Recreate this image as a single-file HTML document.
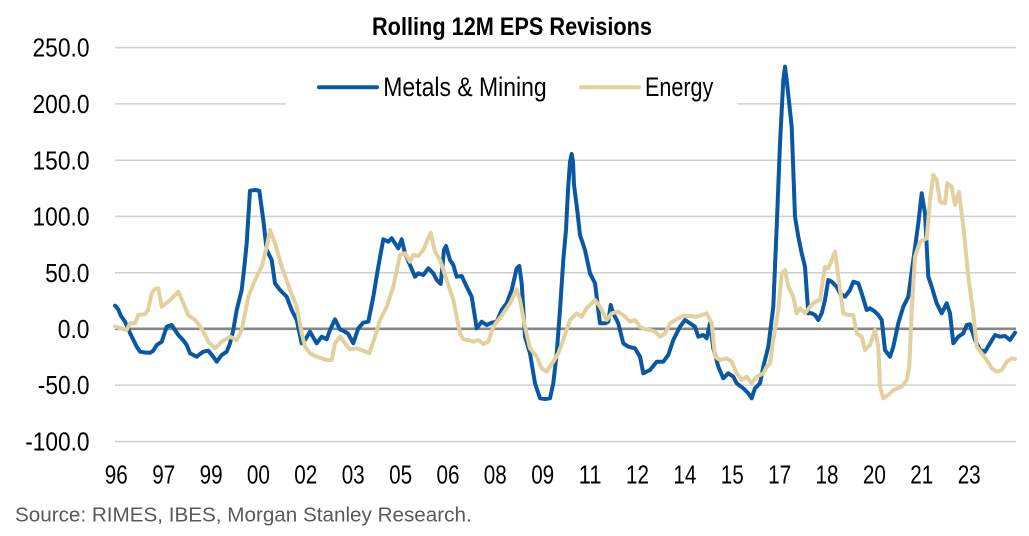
<!DOCTYPE html>
<html>
<head>
<meta charset="utf-8">
<style>
  html, body { margin:0; padding:0; background:#ffffff; }
  body { width:1029px; height:536px; overflow:hidden; }
  svg { display:block; }
  text { font-family: "Liberation Sans", "DejaVu Sans", sans-serif; }
</style>
</head>
<body>
<svg width="1029" height="536" viewBox="0 0 1029 536" xmlns="http://www.w3.org/2000/svg">
  <rect x="0" y="0" width="1029" height="536" fill="#ffffff"/>

  <!-- Title -->
  <text x="512" y="35" font-size="25" font-weight="bold" fill="#000" text-anchor="middle" textLength="280" lengthAdjust="spacingAndGlyphs">Rolling 12M EPS Revisions</text>

  <!-- Gridlines -->
  <g stroke="#cfcfcf" stroke-width="1.5">
    <line x1="115" y1="47.6" x2="1016" y2="47.6"/>
    <line x1="115" y1="103.9" x2="1016" y2="103.9"/>
    <line x1="115" y1="160.2" x2="1016" y2="160.2"/>
    <line x1="115" y1="216.4" x2="1016" y2="216.4"/>
    <line x1="115" y1="272.7" x2="1016" y2="272.7"/>
    <line x1="115" y1="385.1" x2="1016" y2="385.1"/>
    <line x1="115" y1="441.5" x2="1016" y2="441.5"/>
  </g>

  <!-- Legend background (interrupts 200 gridline) -->
  <rect x="286" y="66" width="451" height="44" fill="#ffffff"/>

  <!-- Zero line -->
  <line x1="115" y1="328.8" x2="1016" y2="328.8" stroke="#868686" stroke-width="2.6"/>

  <!-- Y axis labels -->
  <g font-size="26" fill="#000" text-anchor="end">
    <text x="89.5" y="56.7" textLength="57" lengthAdjust="spacingAndGlyphs">250.0</text>
    <text x="89.5" y="113" textLength="57" lengthAdjust="spacingAndGlyphs">200.0</text>
    <text x="89.5" y="169.3" textLength="57" lengthAdjust="spacingAndGlyphs">150.0</text>
    <text x="89.5" y="225.5" textLength="57" lengthAdjust="spacingAndGlyphs">100.0</text>
    <text x="89.5" y="281.8" textLength="44.4" lengthAdjust="spacingAndGlyphs">50.0</text>
    <text x="89.5" y="338" textLength="31.7" lengthAdjust="spacingAndGlyphs">0.0</text>
    <text x="89.5" y="394.2" textLength="51.7" lengthAdjust="spacingAndGlyphs">-50.0</text>
    <text x="89.5" y="450.5" textLength="64.3" lengthAdjust="spacingAndGlyphs">-100.0</text>
  </g>

  <!-- X axis labels -->
  <g font-size="25.5" fill="#000" text-anchor="middle">
    <text x="116.3" y="483.3" textLength="23" lengthAdjust="spacingAndGlyphs">96</text>
    <text x="163.7" y="483.3" textLength="23" lengthAdjust="spacingAndGlyphs">97</text>
    <text x="211.1" y="483.3" textLength="23" lengthAdjust="spacingAndGlyphs">99</text>
    <text x="258.4" y="483.3" textLength="23" lengthAdjust="spacingAndGlyphs">00</text>
    <text x="305.8" y="483.3" textLength="23" lengthAdjust="spacingAndGlyphs">02</text>
    <text x="353.2" y="483.3" textLength="23" lengthAdjust="spacingAndGlyphs">03</text>
    <text x="400.6" y="483.3" textLength="23" lengthAdjust="spacingAndGlyphs">05</text>
    <text x="448.0" y="483.3" textLength="23" lengthAdjust="spacingAndGlyphs">06</text>
    <text x="495.3" y="483.3" textLength="23" lengthAdjust="spacingAndGlyphs">08</text>
    <text x="542.7" y="483.3" textLength="23" lengthAdjust="spacingAndGlyphs">09</text>
    <text x="590.1" y="483.3" textLength="23" lengthAdjust="spacingAndGlyphs">11</text>
    <text x="637.5" y="483.3" textLength="23" lengthAdjust="spacingAndGlyphs">12</text>
    <text x="684.9" y="483.3" textLength="23" lengthAdjust="spacingAndGlyphs">14</text>
    <text x="732.3" y="483.3" textLength="23" lengthAdjust="spacingAndGlyphs">15</text>
    <text x="779.6" y="483.3" textLength="23" lengthAdjust="spacingAndGlyphs">17</text>
    <text x="827.0" y="483.3" textLength="23" lengthAdjust="spacingAndGlyphs">18</text>
    <text x="874.4" y="483.3" textLength="23" lengthAdjust="spacingAndGlyphs">20</text>
    <text x="921.8" y="483.3" textLength="23" lengthAdjust="spacingAndGlyphs">21</text>
    <text x="969.2" y="483.3" textLength="23" lengthAdjust="spacingAndGlyphs">23</text>
  </g>

  <!-- Metals & Mining series -->
  <polyline fill="none" stroke="#0A58A2" stroke-width="4" stroke-linejoin="round" stroke-linecap="round" points="
115,305.7 118,309 121,316 125,321.7 130,333 136.7,346.7 140,351.7 145,352.5 150,352.7 153,351 156.7,345 161.7,341.7
166.7,326.7 171.7,325 175,330 178.3,335 183,340 186.7,345 190,353.3 196.7,356.7 200,354 203.3,351.7 208.3,350.7
213.3,356.7 216.7,361.7 221.7,355 226.7,351.7 230,343.3 233.3,330 236.7,310 241.7,290 244,270 246.7,243.3 250,190.7
255,190 259.3,190.7 263.3,220 266.7,250 271.7,260 275,283.3 280,290 286.7,296.7 291.7,310 296.7,320 301.7,343.3
305,340 310,331.7 316.7,343.3 321.7,336.7 326.7,339.3 330,330 335,319.3 340,329.3 345,331.7 348.3,334 353.3,343.3
358.3,328.3 363.3,322.7 368.3,321.7 373.3,296.7 378.3,266.7 383.3,239.3 388.3,241.7 391.7,238.3 395,243.3 398.3,248.3
401.7,239.3 405,253.3 410,265 415,276.7 418.3,273.3 423.3,275 428.3,268.3 433.3,273.3 436.7,280 440.7,284 444,250
446,246 450,260 453.3,265 456.7,276.7 461.7,276 466.7,286.7 471.7,296.7 476.7,328.3 481.7,321.7 486.7,325 491.7,322.7
496.7,321.7 501.7,310 506.7,303.3 511.7,290 516.7,268.3 519.3,266 521.7,283.3 525,336.7 530,353.3 535,383.3 540,398.3
545,399 550,398.3 553.3,383.3 556.7,353.3 560,310 563.3,260 566,230 568,190 570,162 571.7,154 573,162 574,185 577,208
580,235 585,250 590,273.3 595,283.3 600,323.3 605,323.3 608.3,321.7 610.7,305 613.3,313.3 618.3,323.3 623.3,343.3
628.3,346.7 635,348.3 640,356.7 643.3,373.3 650,370 656.7,361.7 663.3,361.7 668.3,355 673.3,340 680,326.7 685,320
690,323.3 695,326.7 698.3,336.7 703.3,335 706.7,338.3 710,323.3 713.3,348.3 718.3,366.7 723.3,378.3 728.3,373.3
733.3,376.7 736.7,383.3 743.3,388.3 748.3,393.3 751.7,398.3 755,388.3 760,383.3 763.3,366.7 768.3,346.7 773.3,306.7
776.7,226.7 780,143.3 783.3,80 785,66.7 786.7,80 791.7,126.7 795,216.7 798.3,236.7 801.7,253.3 805,266.7 808.3,313.3
811.7,313.3 815,315 818.3,320 821.7,313.3 825,300 828.3,280 831.7,281.7 836.7,286.7 840,293.3 845,296.7 850,290
853.3,281.7 858.3,283.3 861.7,293.3 866.7,310 870,308.3 875,311.7 878.3,315 881.7,320 885,350 890,356.7 893.3,346.7
898.3,323.3 903.3,306.7 908.3,296.7 913.3,260 918.3,223.3 921.7,193.3 925,213.3 928.3,276.7 931.7,286.7 936.7,303.3
941.7,313.3 946.7,303.3 950,313.3 953.3,343.3 958.3,336.7 963.3,333.3 966.7,325 970,324.3 975,340 980,350 985,351.7
990,343.3 995,335 1000,336.7 1005,336 1010,340 1015,332.7"/>

  <!-- Energy series -->
  <polyline fill="none" stroke="#E2D19E" stroke-width="4" stroke-linejoin="round" stroke-linecap="round" points="
115,326.7 120,328 126.7,330 130,323.3 135,323.3 138.3,315 145,314 148,310 151.7,293.3 155,289 158.3,288.3 161.7,306.7
165,304 168.3,301.7 173,297 178.3,291.7 183.3,303.3 188.3,315 195,320 200,326 203.3,331.7 208.3,341.7 215,348.3
221.7,341.7 230,336.7 236.7,340 241.7,330 248.3,296.7 255,280 261.7,266.7 266,250 270,230 275,243.3 281.7,266.7
290,290 296.7,306.7 301.7,333.3 305,346.7 310,353.3 316.7,356.7 326.7,360 331.7,360 335,343.3 340,336.7 345,343.3
350,349.3 356.7,348.3 363.3,350.7 369.3,353.3 375,336.7 380,320 386.7,306.7 393.3,286.7 400,255 405,253.3 410,261.7
413.3,255 418.3,256 423.3,250 426.7,241.7 430.7,232.7 435,251.7 440,260 446.7,280 453.3,300 460,333.3 463.3,339.3
468.3,340 473.3,341.7 478.3,340 483.3,344 488.3,341.7 493.3,326.7 498.3,320 503.3,313.3 510,303.3 516.7,289.3 520,300
525,326.7 530,348.3 536.7,356.7 541.7,368.3 546.7,371.7 553.3,361.7 558.3,353.3 563.3,340 570,320 576.7,313.3
581.7,316.7 586.7,308.3 595,300 600,306.7 606.7,320 611.7,313.3 618.3,311.7 625,316.7 630,321.7 635,320 640,326.7
645,329.3 650,330 655,331.7 660,336.7 665,333.3 670,323.3 676.7,319.3 683.3,316 690,316 696.7,316.7 701.7,315
706.7,313.3 711.7,323.3 715,356.7 720,360 726.7,358.3 731.7,361.7 736.7,373.3 741.7,380 746.7,376.7 751.7,383.3
756.7,376.7 763.3,373.3 766.7,366.7 770,363.3 773.3,340 778.3,310 781.7,273.3 785,270 788.3,286.7 793.3,296.7
796.7,313.3 800,308.3 805,313.3 810,306.7 815,301.7 820,300 825,266.7 828.3,268.3 831.7,260 835,251.7 838.3,276.7
843.3,313.3 848.3,315 853.3,315 856.7,333.3 861.7,336.7 865,350 870,345 875,330 878.3,346.7 880,386.7 883.3,398.3
888.3,395 893.3,390 901.7,386.7 906.7,380 909.3,366.7 911.7,310 915,256.7 920,241.7 926.7,238.3 930,200 933.3,175
936.7,180 940,201.7 945,203.3 947.3,183.3 951.7,186.7 955,205 959,191.7 963.3,226.7 968.3,276.7 973.3,313.3
976.7,346.7 981.7,353.3 986.7,360 991.7,368.3 996.7,371.7 1001.7,370 1006.7,361.7 1011.7,358.3 1015,359"/>

  <!-- Legend -->
  <line x1="319" y1="87.3" x2="377" y2="87.3" stroke="#0A58A2" stroke-width="4" stroke-linecap="round"/>
  <text x="383.3" y="96" font-size="27" fill="#000" textLength="163.4" lengthAdjust="spacingAndGlyphs">Metals &amp; Mining</text>
  <line x1="581" y1="87.3" x2="639" y2="87.3" stroke="#E2D19E" stroke-width="4" stroke-linecap="round"/>
  <text x="645" y="96" font-size="27" fill="#000" textLength="68.3" lengthAdjust="spacingAndGlyphs">Energy</text>

  <!-- Source -->
  <text x="15" y="521.7" font-size="20.5" fill="#595959" textLength="456.7" lengthAdjust="spacingAndGlyphs">Source: RIMES, IBES, Morgan Stanley Research.</text>
</svg>
</body>
</html>
